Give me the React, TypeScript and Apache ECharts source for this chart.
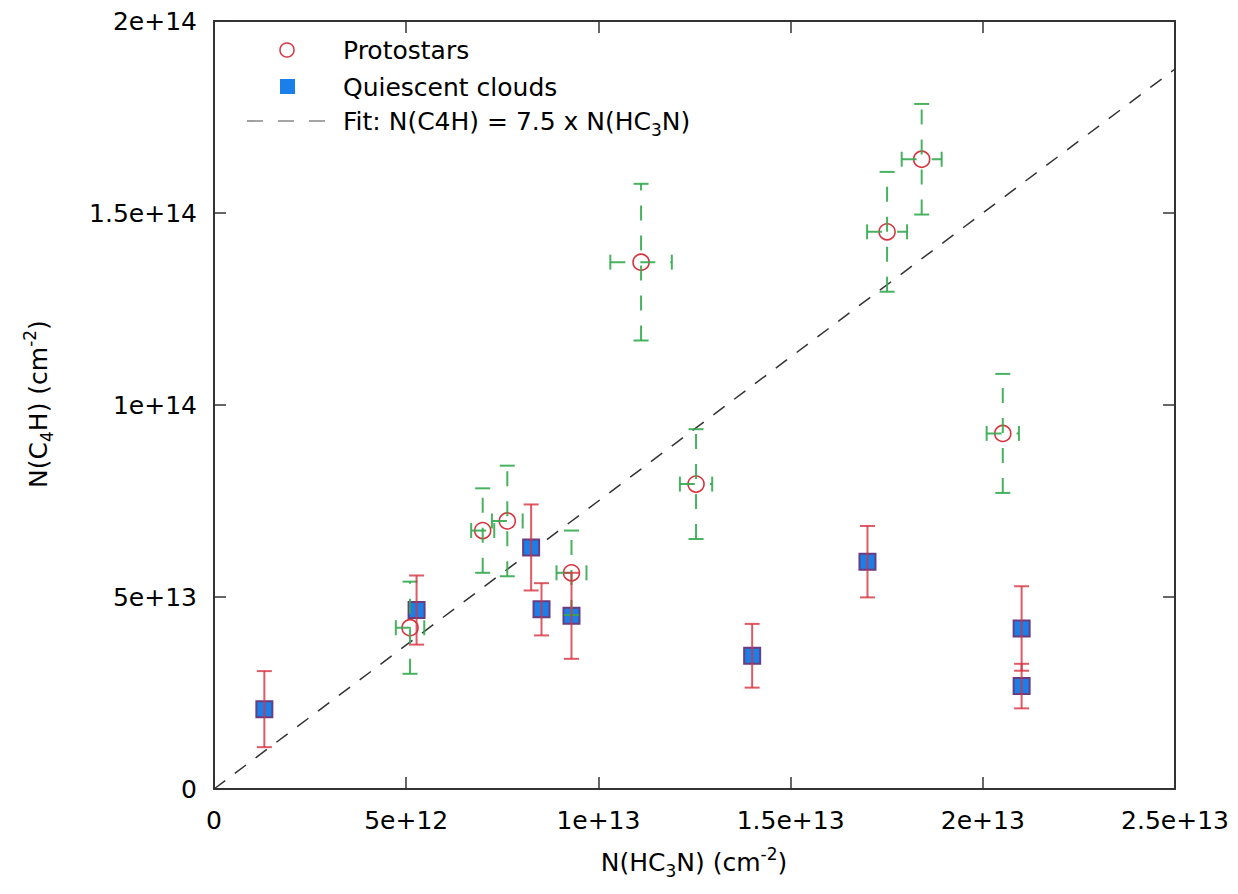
import React, { useEffect, useRef } from "react";
import * as echarts from "echarts";

const FONT = '"DejaVu Sans", sans-serif';

const xTickLabels = ["0", "5e+12", "1e+13", "1.5e+13", "2e+13", "2.5e+13"];
const yTickLabels = ["0", "5e+13", "1e+14", "1.5e+14", "2e+14"];

// Protostars: N(HC3N), N(C4H) and their errors
const protoX = [5.1e12, 6.99e12, 7.63e12, 9.3e12, 11.11e12, 12.54e12, 17.51e12, 18.41e12, 20.52e12];
const protoY = [4.2e13, 6.73e13, 6.98e13, 5.63e13, 13.72e13, 7.94e13, 14.51e13, 16.4e13, 9.26e13];
const protoXErr = [0.37e12, 0.3e12, 0.4e12, 0.39e12, 0.8e12, 0.42e12, 0.52e12, 0.52e12, 0.42e12];
const protoYErr = [1.2e13, 1.1e13, 1.44e13, 1.1e13, 2.04e13, 1.43e13, 1.56e13, 1.44e13, 1.55e13];

// Quiescent clouds
const quiescentX = [1.31e12, 5.27e12, 8.25e12, 8.52e12, 9.3e12, 14.0e12, 17.0e12, 21.01e12, 21.01e12];
const quiescentY = [2.08e13, 4.66e13, 6.29e13, 4.68e13, 4.51e13, 3.47e13, 5.92e13, 4.18e13, 2.68e13];
const quiescentYErr = [0.99e13, 0.9e13, 1.12e13, 0.68e13, 1.12e13, 0.83e13, 0.93e13, 1.1e13, 0.58e13];

const fitSlope = 7.5;
const xMin = 0;
const xMax = 2.5e13;
const xStep = 5e12;
const yMin = 0;
const yMax = 2e14;
const yStep = 5e13;

const GREEN = "rgba(52,170,80,0.9)";
const RED_BAR = "rgba(214,50,62,0.8)";
const RED_CIRCLE = "#d8343f";
const BLUE = "#1a7fe8";
const AXIS = "#333";

function App() {
  const ref = useRef<HTMLDivElement>(null);

  useEffect(() => {
    if (!ref.current) return;
    const chart = echarts.init(ref.current, null, { renderer: "svg" });

    const protoData = protoX.map((x, i) => [x, protoY[i], protoXErr[i], protoYErr[i]]);
    const quiData = quiescentX.map((x, i) => [x, quiescentY[i], quiescentYErr[i]]);
    const fitData = [
      [xMin, fitSlope * xMin],
      [xMax, fitSlope * xMax],
    ];

    const baseX = (position: "bottom" | "top", labels: boolean) => ({
      type: "value",
      position,
      min: xMin,
      max: xMax,
      interval: xStep,
      axisLine: { show: true, onZero: false, lineStyle: { color: AXIS, width: 2 } },
      axisTick: { show: true, inside: true, length: 12, lineStyle: { color: AXIS, width: 1.5 } },
      axisLabel: {
        show: labels,
        margin: 19,
        color: "#000",
        fontSize: 25,
        fontFamily: FONT,
        formatter: (v: number) => xTickLabels[Math.round(v / xStep)],
      },
      splitLine: { show: false },
    });
    const baseY = (position: "left" | "right", labels: boolean) => ({
      type: "value",
      position,
      min: yMin,
      max: yMax,
      interval: yStep,
      axisLine: { show: true, onZero: false, lineStyle: { color: AXIS, width: 2 } },
      axisTick: { show: true, inside: true, length: 12, lineStyle: { color: AXIS, width: 1.5 } },
      axisLabel: {
        show: labels,
        margin: 17,
        color: "#000",
        fontSize: 25,
        fontFamily: FONT,
        formatter: (v: number) => yTickLabels[Math.round(v / yStep)],
      },
      splitLine: { show: false },
    });

    const protoBars = (params: any, api: any) => {
      const x = api.value(0);
      const y = api.value(1);
      const ex = api.value(2);
      const ey = api.value(3);
      const c = api.coord([x, y]);
      const top = api.coord([x, y + ey]);
      const bot = api.coord([x, y - ey]);
      const l = api.coord([x - ex, y]);
      const r = api.coord([x + ex, y]);
      const cap = 7.5;
      const st = { stroke: GREEN, lineWidth: 2, lineDash: [15, 15] };
      const sc = { stroke: GREEN, lineWidth: 2 };
      return {
        type: "group",
        children: [
          { type: "line", shape: { x1: c[0], y1: bot[1], x2: c[0], y2: top[1] }, style: st },
          { type: "line", shape: { x1: l[0], y1: c[1], x2: r[0], y2: c[1] }, style: st },
          { type: "line", shape: { x1: c[0] - cap, y1: top[1], x2: c[0] + cap, y2: top[1] }, style: sc },
          { type: "line", shape: { x1: c[0] - cap, y1: bot[1], x2: c[0] + cap, y2: bot[1] }, style: sc },
          { type: "line", shape: { x1: l[0], y1: c[1] - cap, x2: l[0], y2: c[1] + cap }, style: sc },
          { type: "line", shape: { x1: r[0], y1: c[1] - cap, x2: r[0], y2: c[1] + cap }, style: sc },
        ],
      };
    };

    const quiBars = (params: any, api: any) => {
      const x = api.value(0);
      const y = api.value(1);
      const ey = api.value(2);
      const c = api.coord([x, y]);
      const top = api.coord([x, y + ey]);
      const bot = api.coord([x, y - ey]);
      const cap = 7.5;
      const s = { stroke: RED_BAR, lineWidth: 2 };
      return {
        type: "group",
        children: [
          { type: "line", shape: { x1: c[0], y1: bot[1], x2: c[0], y2: top[1] }, style: s },
          { type: "line", shape: { x1: c[0] - cap, y1: top[1], x2: c[0] + cap, y2: top[1] }, style: s },
          { type: "line", shape: { x1: c[0] - cap, y1: bot[1], x2: c[0] + cap, y2: bot[1] }, style: s },
        ],
      };
    };

    const rich = {
      n: { fontSize: 25, lineHeight: 34, fontFamily: FONT, color: "#000" },
      sub: { fontSize: 17, lineHeight: 17, fontFamily: FONT, color: "#000", verticalAlign: "bottom" },
      sup: { fontSize: 17, lineHeight: 17, fontFamily: FONT, color: "#000", verticalAlign: "top" },
    };

    const option: any = {
      animation: false,
      backgroundColor: "#fff",
      grid: { left: 214, top: 21, width: 961, height: 768, containLabel: false },
      xAxis: [baseX("bottom", true), baseX("top", false)],
      yAxis: [baseY("left", true), baseY("right", false)],
      series: [
        {
          type: "line",
          data: fitData,
          symbol: "none",
          silent: true,
          lineStyle: { color: "#333", width: 1.5, type: [14, 12] },
          z: 1,
        },
        {
          type: "scatter",
          data: quiData.map((d) => [d[0], d[1]]),
          symbol: "rect",
          symbolSize: 16,
          itemStyle: { color: BLUE, borderColor: "#6a3d80", borderWidth: 2, opacity: 1 },
          z: 2,
        },
        {
          type: "scatter",
          data: protoData.map((d) => [d[0], d[1]]),
          symbol: "circle",
          symbolSize: 16,
          itemStyle: { color: "rgba(255,255,255,0)", borderColor: RED_CIRCLE, borderWidth: 1.6, opacity: 1 },
          z: 2,
        },
        {
          type: "custom",
          data: protoData,
          encode: { x: 0, y: 1 },
          renderItem: protoBars,
          z: 3,
        },
        {
          type: "custom",
          data: quiData,
          encode: { x: 0, y: 1 },
          renderItem: quiBars,
          z: 3,
        },
      ],
      graphic: [
        // legend
        {
          type: "circle",
          shape: { cx: 287, cy: 50, r: 7 },
          style: { fill: "none", stroke: RED_CIRCLE, lineWidth: 1.5 },
        },
        {
          type: "rect",
          shape: { x: 280, y: 79, width: 15, height: 15 },
          style: { fill: BLUE },
        },
        {
          type: "line",
          shape: { x1: 247, y1: 121, x2: 327, y2: 121 },
          style: { stroke: "#888", lineWidth: 1.6, lineDash: [16, 15] },
        },
        {
          type: "text",
          x: 343,
          y: 50,
          style: { text: "Protostars", font: `25px ${FONT}`, fill: "#000", verticalAlign: "middle" },
        },
        {
          type: "text",
          x: 343,
          y: 87,
          style: { text: "Quiescent clouds", font: `25px ${FONT}`, fill: "#000", verticalAlign: "middle" },
        },
        {
          type: "text",
          x: 343,
          y: 121,
          style: {
            text: "{n|Fit: N(C4H) = 7.5 x N(HC}{sub|3}{n|N)}",
            rich,
            verticalAlign: "middle",
          },
        },
        // axis titles
        {
          type: "text",
          x: 694,
          y: 862,
          style: {
            text: "{n|N(HC}{sub|3}{n|N) (cm}{sup|-2}{n|)}",
            rich,
            align: "center",
            verticalAlign: "middle",
          },
        },
        {
          type: "text",
          x: 38,
          y: 404,
          rotation: Math.PI / 2,
          style: {
            text: "{n|N(C}{sub|4}{n|H) (cm}{sup|-2}{n|)}",
            rich,
            align: "center",
            verticalAlign: "middle",
          },
        },
      ],
    };

    chart.setOption(option);
    return () => chart.dispose();
  }, []);

  return (
    <div
      ref={ref}
      style={{ position: "fixed", left: 0, top: 0, width: 1238, height: 894, background: "#fff" }}
    />
  );
}

export default App;
